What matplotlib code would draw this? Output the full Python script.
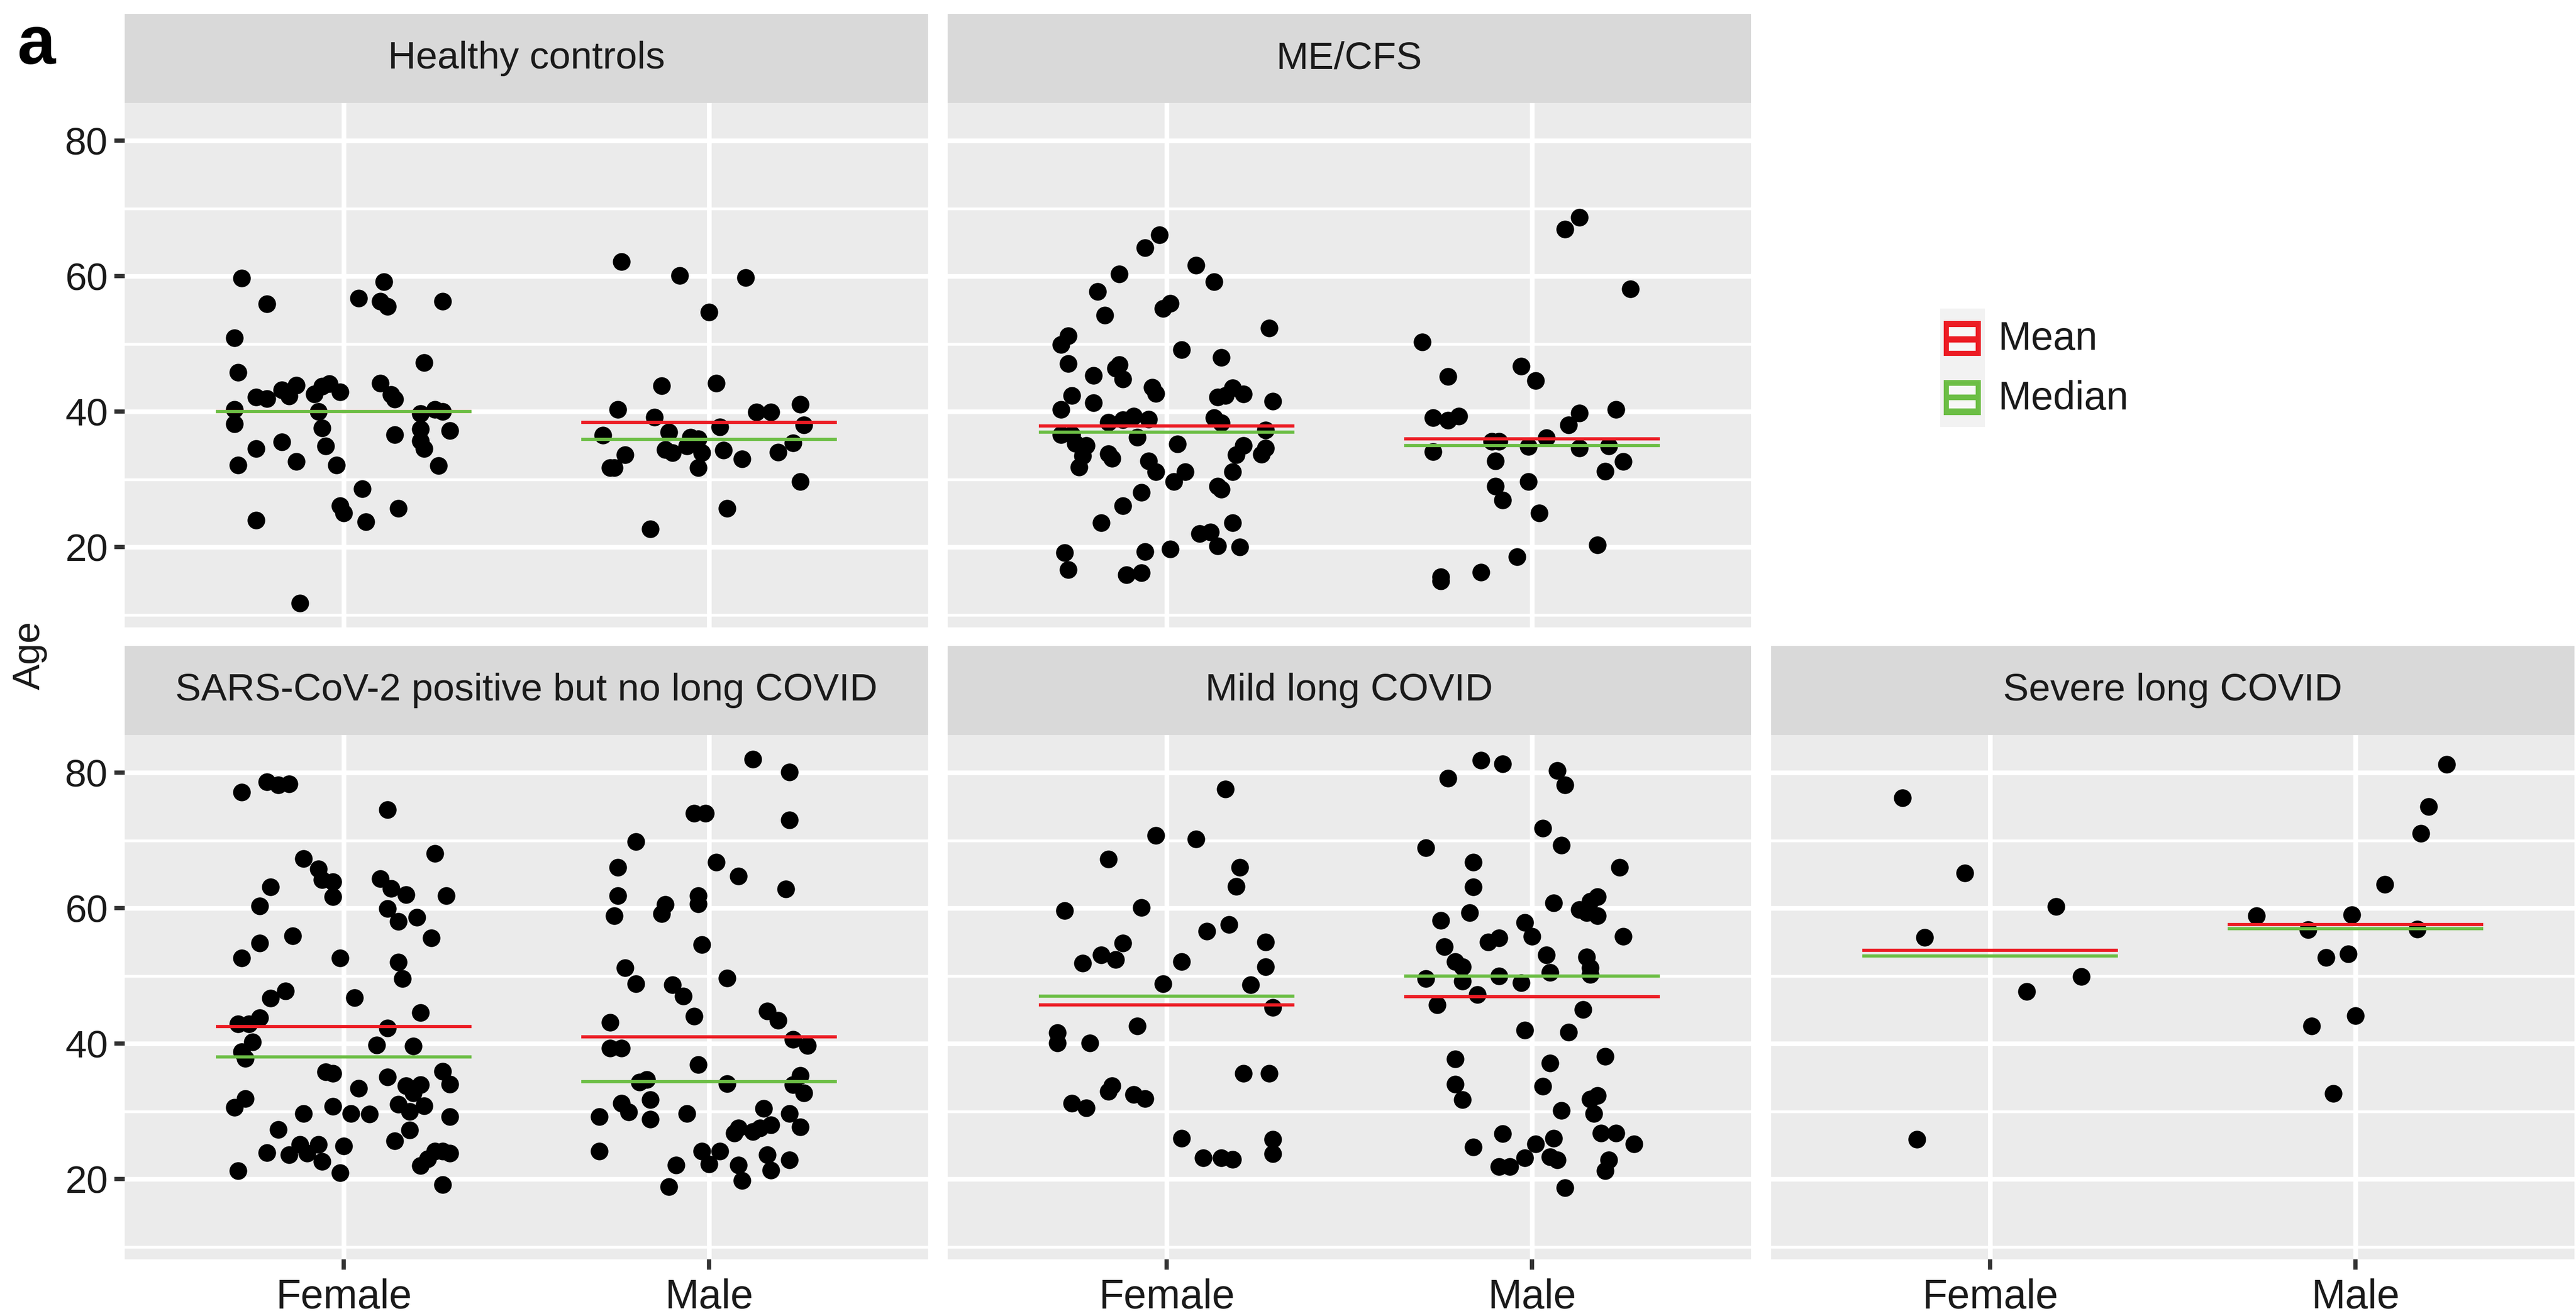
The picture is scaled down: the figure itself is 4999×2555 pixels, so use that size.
import matplotlib.pyplot as plt
from matplotlib.patches import Rectangle

plt.rcParams['font.family'] = ['Liberation Sans', 'DejaVu Sans']

W, H, DPI = 4999, 2555, 300

panel_titles = ['Healthy controls', 'ME/CFS', 'SARS-CoV-2 positive but no long COVID',
                'Mild long COVID', 'Severe long COVID']
sex_labels = ['Female', 'Male']

# jitter offset (x, relative to the category) and age
hc_f_jit = [-0.28, -0.21, -0.30, -0.29, -0.24, -0.21, -0.17, -0.15, -0.13, -0.08, -0.06, -0.04,
            -0.01, -0.30, -0.30, -0.07, -0.06, -0.24, -0.17, -0.29, -0.13, -0.05, -0.02, -0.24,
            -0.01, 0.00, 0.05, 0.06, -0.12, 0.04, 0.11, 0.10, 0.12, 0.27, 0.22, 0.10, 0.13, 0.14,
            0.14, 0.21, 0.25, 0.27, 0.21, 0.21, 0.22, 0.29, 0.26, 0.15]
hc_f_age = [59.7, 55.9, 50.9, 45.8, 42.1, 41.9, 43.2, 42.3, 43.9, 42.6, 43.7, 44.1,
            42.9, 40.3, 38.2, 40.0, 37.6, 34.5, 35.5, 32.1, 32.6, 34.9, 32.1, 24.0,
            26.1, 25.0, 28.6, 23.7, 11.7, 56.7, 59.2, 56.3, 55.5, 56.3, 47.2, 44.2, 42.5, 41.8,
            36.6, 39.7, 40.3, 40.0, 37.4, 35.7, 34.5, 37.2, 32.0, 25.7]
hc_m_jit = [-0.24, -0.08, 0.10, 0.00, -0.13, 0.02, -0.25, -0.15, -0.29, -0.11, -0.23, -0.27,
            -0.26, -0.12, -0.10, -0.05, -0.03, -0.06, -0.02, -0.03, 0.03, 0.04, 0.09, 0.13,
            0.17, 0.25, 0.26, 0.23, 0.19, 0.25, 0.05, -0.16]
hc_m_age = [62.1, 60.1, 59.8, 54.7, 43.8, 44.2, 40.3, 39.2, 36.5, 37.0, 33.6, 31.7,
            31.7, 34.4, 33.9, 36.2, 36.0, 34.9, 33.9, 31.7, 37.7, 34.3, 33.0, 39.9,
            39.9, 41.1, 38.0, 35.4, 34.0, 29.7, 25.7, 22.7]

me_f_jit = [-0.02, -0.06, -0.13, -0.19, -0.17, -0.01, 0.01, 0.08, 0.13, 0.28, -0.27, -0.29,
            -0.27, -0.20, -0.14, -0.13, -0.12, -0.04, -0.03, 0.04, 0.15, -0.26, -0.20, -0.29,
            -0.16, -0.12, -0.09, -0.05, 0.14, 0.18, 0.16, 0.21, 0.29, 0.13, 0.15, 0.27,
            -0.29, -0.26, -0.25, -0.22, -0.23, -0.24, -0.16, -0.15, -0.08, -0.05, -0.03, 0.03,
            0.05, 0.02, 0.21, 0.19, 0.18, 0.14, 0.15, 0.26, 0.27, -0.07, -0.12, -0.18,
            0.18, 0.09, 0.12, 0.14, 0.20, 0.01, -0.28, -0.27, -0.06, -0.11, -0.07]
me_f_age = [66.1, 64.2, 60.3, 57.7, 54.2, 55.2, 56.0, 61.6, 59.2, 52.3, 51.2, 49.9,
            47.1, 45.3, 46.4, 46.9, 44.8, 43.6, 42.7, 49.1, 48.0, 42.4, 41.3, 40.3,
            38.4, 38.8, 39.3, 38.9, 42.1, 43.5, 42.4, 42.6, 41.5, 39.1, 38.3, 37.3,
            36.6, 36.6, 35.3, 35.0, 33.5, 31.8, 33.8, 33.1, 36.2, 32.7, 31.1, 35.2,
            31.1, 29.7, 35.0, 33.6, 31.1, 29.0, 28.5, 33.7, 34.6, 28.1, 26.1, 23.6,
            23.6, 22.0, 22.2, 20.2, 20.0, 19.7, 19.2, 16.7, 19.3, 15.9, 16.2]
me_m_jit = [0.13, 0.09, 0.27, -0.30, -0.23, -0.03, 0.01, -0.27, -0.23, -0.20, -0.27, -0.11,
            -0.09, -0.10, -0.10, -0.08, -0.01, 0.04, -0.01, 0.02, 0.13, 0.10, 0.13, 0.23,
            0.21, 0.25, 0.20, 0.18, -0.04, -0.14, -0.25, -0.25]
me_m_age = [68.7, 66.9, 58.1, 50.3, 45.2, 46.7, 44.6, 39.1, 38.7, 39.3, 34.1, 35.6,
            35.6, 32.7, 29.0, 26.9, 34.8, 36.1, 29.7, 25.0, 39.8, 38.0, 34.6, 40.3,
            34.9, 32.6, 31.2, 20.3, 18.6, 16.3, 15.6, 15.0]

sars_f_jit = [-0.28, -0.21, -0.18, -0.15, 0.12, 0.25, -0.11, -0.07, -0.06, -0.03, -0.03, -0.20,
              -0.23, 0.10, 0.13, 0.17, 0.28, 0.12, 0.15, 0.20, 0.24, -0.14, -0.23, -0.28,
              -0.01, 0.15, 0.16, -0.16, -0.20, 0.03, 0.21, -0.29, -0.26, -0.23, 0.12, -0.25,
              -0.28, -0.27, 0.09, 0.19, -0.05, -0.03, 0.04, 0.12, 0.17, 0.21, 0.19, 0.27,
              0.29, -0.27, -0.30, -0.11, -0.03, 0.02, 0.07, 0.15, 0.18, 0.22, 0.29, -0.18,
              0.18, 0.14, -0.21, -0.15, -0.12, -0.10, -0.07, -0.06, 0.00, -0.01, -0.29, 0.21,
              0.23, 0.25, 0.27, 0.29, 0.27]
sars_f_age = [77.1, 78.6, 78.2, 78.3, 74.5, 68.1, 67.3, 65.8, 64.2, 63.9, 61.7, 63.1,
              60.3, 64.3, 62.9, 62.0, 61.8, 59.9, 58.0, 58.6, 55.6, 55.9, 54.8, 52.6,
              52.6, 52.0, 49.6, 47.8, 46.7, 46.8, 44.6, 42.9, 42.9, 43.8, 42.3, 40.2,
              38.8, 37.8, 39.8, 39.6, 35.8, 35.6, 33.4, 35.1, 33.8, 33.9, 32.7, 35.9,
              34.0, 31.9, 30.6, 29.7, 30.7, 29.7, 29.6, 31.0, 30.0, 30.8, 29.2, 27.3,
              27.2, 25.6, 23.9, 23.6, 25.1, 23.8, 25.1, 22.6, 24.9, 20.9, 21.2, 22.0,
              23.0, 24.1, 24.1, 23.8, 19.2]
sars_m_jit = [0.12, 0.22, -0.04, -0.01, 0.22, -0.20, -0.25, 0.02, 0.08, -0.25, 0.21, -0.12,
              -0.13, -0.03, -0.03, -0.26, -0.02, -0.23, -0.20, -0.10, -0.07, -0.04, 0.05, 0.16,
              0.19, -0.27, 0.23, 0.27, -0.27, -0.24, -0.03, -0.19, -0.17, 0.05, 0.25, 0.23,
              0.26, -0.16, -0.24, -0.22, -0.30, -0.16, -0.06, 0.15, 0.22, 0.25, 0.08, 0.07,
              0.12, 0.14, 0.17, -0.30, -0.02, 0.03, 0.00, -0.09, 0.08, 0.16, 0.17, 0.22,
              0.09, -0.11]
sars_m_age = [82.0, 80.1, 74.0, 74.0, 73.0, 69.8, 66.0, 66.8, 64.7, 61.8, 62.8, 60.5,
              59.2, 61.8, 60.6, 58.9, 54.6, 51.2, 48.8, 48.7, 47.0, 44.0, 49.7, 44.8,
              43.4, 43.1, 40.6, 39.7, 39.3, 39.3, 36.9, 34.3, 34.7, 34.1, 35.3, 33.9,
              32.7, 31.7, 31.2, 29.9, 29.2, 28.8, 29.7, 30.4, 29.7, 27.7, 27.5, 26.8,
              27.0, 27.5, 28.0, 24.1, 24.1, 24.1, 22.2, 22.1, 22.1, 23.6, 21.3, 22.8,
              19.8, 18.9]

mild_f_jit = [0.16, -0.03, 0.08, -0.16, 0.20, 0.19, -0.28, -0.07, 0.17, 0.11, 0.27, -0.12,
              -0.18, -0.14, -0.23, 0.04, 0.27, -0.01, 0.23, 0.29, -0.08, -0.30, -0.30, -0.21,
              0.21, 0.28, -0.15, -0.16, -0.09, -0.06, -0.26, -0.22, 0.04, 0.10, 0.15, 0.18,
              0.29, 0.29]
mild_f_age = [77.6, 70.7, 70.2, 67.2, 66.0, 63.2, 59.6, 60.1, 57.6, 56.6, 55.0, 54.8,
              53.1, 52.4, 51.9, 52.1, 51.3, 48.8, 48.7, 45.3, 42.6, 41.6, 40.1, 40.1,
              35.6, 35.6, 33.8, 32.9, 32.5, 31.9, 31.2, 30.5, 26.0, 23.1, 23.1, 22.9,
              25.9, 23.7]
mild_m_jit = [-0.14, -0.08, -0.23, 0.07, 0.09, 0.03, -0.29, 0.08, -0.16, 0.24, -0.16, 0.06,
              -0.17, 0.13, 0.16, 0.18, 0.15, 0.18, -0.25, -0.02, 0.00, 0.25, -0.12, -0.09,
              -0.24, -0.21, -0.19, 0.04, 0.15, 0.16, 0.16, 0.05, -0.29, -0.19, -0.09, -0.03,
              -0.15, -0.26, 0.14, -0.02, 0.10, -0.21, 0.05, 0.20, -0.21, 0.03, -0.19, 0.16,
              0.18, 0.08, 0.17, -0.08, -0.16, 0.01, 0.06, 0.19, 0.23, 0.28, -0.02, -0.09,
              -0.06, 0.05, 0.07, 0.21, 0.20, 0.09]
mild_m_age = [81.8, 81.3, 79.2, 80.3, 78.2, 71.8, 68.9, 69.3, 66.8, 66.0, 63.1, 60.8,
              59.3, 59.8, 61.0, 61.7, 59.3, 58.9, 58.2, 57.9, 55.8, 55.8, 55.0, 55.6,
              54.3, 52.1, 51.3, 53.1, 52.8, 51.2, 50.2, 50.5, 49.6, 49.2, 50.0, 49.0,
              47.2, 45.7, 45.0, 42.0, 41.7, 37.7, 37.1, 38.1, 34.0, 33.7, 31.7, 31.8,
              32.3, 30.1, 29.7, 26.7, 24.7, 25.2, 26.0, 26.8, 26.8, 25.2, 23.1, 21.8,
              21.8, 23.3, 22.8, 22.8, 21.2, 18.7]

sev_f_jit = [-0.24, -0.07, 0.18, -0.18, 0.25, 0.10, -0.20]
sev_f_age = [76.3, 65.2, 60.2, 55.7, 49.9, 47.7, 25.9]
sev_m_jit = [0.25, 0.20, 0.18, 0.08, -0.27, -0.01, -0.13, 0.17, -0.02, -0.08, 0.00, -0.12, -0.06]
sev_m_age = [81.2, 75.0, 71.0, 63.5, 58.9, 59.0, 56.8, 56.9, 53.2, 52.7, 44.1, 42.6, 32.6]

# summary lines (Female, Male) per panel
mean_age = [[40.0, 38.4], [37.9, 36.0], [42.5, 41.0], [45.7, 46.9], [53.8, 57.6]]
median_age = [[40.0, 35.9], [37.0, 35.0], [38.0, 34.4], [47.0, 50.0], [52.9, 57.0]]

RED = '#EC1C24'
GREEN = '#6CBE45'
TXT = '#1A1A1A'
YLIM = (8.15, 85.55)

# panel geometry in pixels
COL_X = [242, 1839, 3437]
PANEL_W = 1559
ROW_Y = [200, 1427]
PANEL_H = 1018
STRIP_H = 173


def px_rect(x0, y0, w, h):
    return [x0 / W, 1 - (y0 + h) / H, w / W, h / H]


def draw_panel(fig, col, row, title, groups, means, medians, show_x, show_y):
    x0, y0 = COL_X[col], ROW_Y[row]
    ax = fig.add_axes(px_rect(x0, y0, PANEL_W, PANEL_H))
    ax.set_facecolor('#EBEBEB')
    ax.set_xlim(0.4, 2.6)
    ax.set_ylim(*YLIM)
    ax.set_xticks([1, 2])
    ax.set_xticklabels(sex_labels)
    ax.set_yticks([20, 40, 60, 80])
    ax.set_yticks([10, 30, 50, 70], minor=True)
    ax.grid(which='major', color='white', linewidth=2.2)
    ax.grid(which='minor', axis='y', color='white', linewidth=1.3)
    ax.set_axisbelow(True)
    for s in ax.spines.values():
        s.set_visible(False)
    ax.tick_params(which='major', length=4.8, width=2.0, color='#333333',
                   labelsize=18, labelcolor=TXT)
    ax.tick_params(axis='y', pad=3)
    ax.tick_params(axis='x', pad=4, labelsize=19)
    ax.tick_params(which='minor', left=False, length=0)
    if not show_x:
        ax.tick_params(axis='x', bottom=False, labelbottom=False)
    if not show_y:
        ax.tick_params(axis='y', left=False, labelleft=False)

    for i, (jit, age) in enumerate(groups):
        ax.scatter([i + 1 + j for j in jit], age, s=68, c='black', linewidths=0, zorder=3)
    for i in range(2):
        ax.hlines(means[i], i + 1 - 0.35, i + 1 + 0.35, color=RED, linewidth=1.5, zorder=4)
        ax.hlines(medians[i], i + 1 - 0.35, i + 1 + 0.35, color=GREEN, linewidth=1.5, zorder=5)

    sax = fig.add_axes(px_rect(x0, y0 - STRIP_H, PANEL_W, STRIP_H))
    sax.set_facecolor('#D9D9D9')
    sax.set_xticks([])
    sax.set_yticks([])
    for s in sax.spines.values():
        s.set_visible(False)
    sax.text(0.5, 0.5, title, ha='center', va='center', fontsize=18, color=TXT,
             transform=sax.transAxes)


def draw_legend(ov):
    dx, dy = 25, 6
    ov.add_patch(Rectangle((3740 + dx, 593 + dy), 87, 230, facecolor='#F2F2F2', edgecolor='none'))
    for color, top, gaps, label, ty in [(RED, 617, [(629, 647), (659, 675)], 'Mean', 653),
                                         (GREEN, 732, [(743, 760), (771, 787)], 'Median', 768)]:
        ov.add_patch(Rectangle((3747 + dx, top + dy), 72, 68, facecolor=color, edgecolor='none'))
        for g0, g1 in gaps:
            ov.add_patch(Rectangle((3757 + dx, g0 + dy), 52, g1 - g0, facecolor='#F7F7F7',
                                   edgecolor='none'))
        ov.text(3853 + dx, ty + dy, label, fontsize=18.5, color=TXT, ha='left', va='center')


def main():
    fig = plt.figure(figsize=(W / DPI, H / DPI), dpi=DPI)
    fig.patch.set_facecolor('white')

    panels = [
        (0, 0, [(hc_f_jit, hc_f_age), (hc_m_jit, hc_m_age)], False, True),
        (1, 0, [(me_f_jit, me_f_age), (me_m_jit, me_m_age)], False, False),
        (0, 1, [(sars_f_jit, sars_f_age), (sars_m_jit, sars_m_age)], True, True),
        (1, 1, [(mild_f_jit, mild_f_age), (mild_m_jit, mild_m_age)], True, False),
        (2, 1, [(sev_f_jit, sev_f_age), (sev_m_jit, sev_m_age)], True, False),
    ]
    for k, (col, row, groups, sx, sy) in enumerate(panels):
        draw_panel(fig, col, row, panel_titles[k], groups, mean_age[k], median_age[k], sx, sy)

    ov = fig.add_axes([0, 0, 1, 1], facecolor='none')
    ov.set_xlim(0, W)
    ov.set_ylim(H, 0)
    ov.axis('off')
    draw_legend(ov)
    ov.text(33, 124, 'a', fontsize=32, fontweight='bold', color='black', va='baseline')
    ov.text(57, 1272, 'Age', fontsize=18, color=TXT, rotation=90, ha='center', va='center')

    fig.savefig('out.png', dpi=DPI)


if __name__ == "__main__":
    main()
